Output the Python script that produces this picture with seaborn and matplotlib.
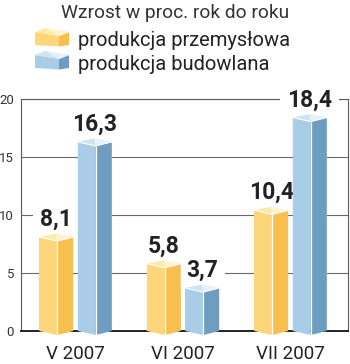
import matplotlib
matplotlib.use("Agg")
import matplotlib.pyplot as plt
from matplotlib.patches import Polygon
import seaborn as sns
import pandas as pd

# Year-on-year growth, per cent
miesiace = ["V 2007", "VI 2007", "VII 2007"]
serie = ["produkcja przemysłowa", "produkcja budowlana"]
przemyslowa = [8.1, 5.8, 10.4]
budowlana = [16.3, 3.7, 18.4]
etykiety_y = [0, 5, 10, 15, 20]

df = pd.DataFrame({
    "miesiac": miesiace * 2,
    "seria": [serie[0]] * 3 + [serie[1]] * 3,
    "wartosc": przemyslowa + budowlana,
})

# front / side / cap-left / cap-right tones for each series
KOLORY = {
    serie[0]: ("#fdd67c", "#f8bf4e", "#fee9a6", "#fff4cf"),
    serie[1]: ("#a9cde6", "#6f9dc0", "#cfe3f1", "#e6f1f9"),
}

sns.set_theme(style="white")
plt.rcParams["font.family"] = ["Roboto", "DejaVu Sans"]

W, H = 350, 364
fig = plt.figure(figsize=(W / 100, H / 100), dpi=100)
ax = fig.add_axes([21 / W, 33 / H, 327 / W, 232 / H])

sns.barplot(data=df, x="miesiac", y="wartosc", hue="seria", order=miesiace,
            hue_order=serie, palette={s: KOLORY[s][0] for s in serie},
            width=0.716, gap=0.12, linewidth=0, legend=False, ax=ax)

ax.set_xlim(-0.507, 2.535)
ax.set_ylim(0, 20)

DY_NEAR = 0.35
DY_FAR = 0.30
FRONT = 0.53


def box(ax, x0, w, h, cols, z=3):
    x1 = x0 + w
    xm = x0 + FRONT * w
    xf = x0 + (x1 - xm)
    front, side, capl, capr = cols
    kw = dict(closed=True, clip_on=False, zorder=z, linewidth=0)
    ax.add_patch(Polygon([(x0, 0), (xm, -DY_NEAR), (xm, h - DY_NEAR), (x0, h)],
                         facecolor=front, **kw))
    ax.add_patch(Polygon([(xm, -DY_NEAR), (x1, 0), (x1, h), (xm, h - DY_NEAR)],
                         facecolor=side, **kw))
    ax.add_patch(Polygon([(x0, h), (xf, h + DY_FAR), (x1, h), (xm, h - DY_NEAR)],
                         facecolor=capl, **kw))
    ax.add_patch(Polygon([(xf, h + DY_FAR), (x1, h), (xm, h - DY_NEAR)],
                         facecolor=capr, **kw))
    ax.plot([xm, xm], [-DY_NEAR, h - DY_NEAR], color="white", lw=0.9,
            zorder=z + 0.1, clip_on=False, solid_capstyle="butt")
    ax.plot([x0, xm, x1], [h, h - DY_NEAR, h], color="white", lw=0.8,
            zorder=z + 0.1, clip_on=False)


for seria, cont in zip(serie, ax.containers):
    for rect in cont:
        x0, w, h = rect.get_x(), rect.get_width(), rect.get_height()
        box(ax, x0, w, h, KOLORY[seria])
        ax.annotate(f"{h:.1f}".replace(".", ","), xy=(x0 + w / 2, h),
                    xytext=(0, 8), textcoords="offset points",
                    ha="center", va="baseline", fontsize=16.5, fontweight="bold",
                    color="#222222", zorder=2.8,
                    bbox=dict(boxstyle="square,pad=0.3", fc="white", ec="none"))

# axes frame and grid
ax.set_yticks(etykiety_y)
ax.set_yticklabels([str(v) for v in etykiety_y])
ax.yaxis.grid(True, color="#6a6a6a", lw=0.8)
ax.set_axisbelow(True)
for s in ["left", "top", "right"]:
    ax.spines[s].set_color("#5a5a5a")
    ax.spines[s].set_linewidth(0.8)
ax.spines["bottom"].set_color("#111111")
ax.spines["bottom"].set_linewidth(1.3)
ax.tick_params(axis="y", length=0, pad=5, labelsize=9.5, labelcolor="#333333")
ax.tick_params(axis="x", which="major", length=0, pad=10, labelsize=13.5,
               labelcolor="#222222")
ax.set_xticks([0.5, 1.5], minor=True)
ax.tick_params(axis="x", which="minor", direction="in", length=4, width=1,
               color="#111111")
ax.set_xlabel("")
ax.set_ylabel("")

# title and legend
def px(x, y):
    return (x / W, 1 - y / H)


fig.text(*px(175, 18), "Wzrost w proc. rok do roku", ha="center",
         va="baseline", fontsize=13.8, color="#333333")

for i, seria in enumerate(serie):
    oy = i * 23
    front, side, capl, capr = KOLORY[seria]
    x0, x1, xm = 35, 69, 59
    xf = x0 + (x1 - xm)
    top, near, far, bot = 32 + oy, 36 + oy, 28 + oy, 45 + oy
    kw = dict(closed=True, transform=fig.transFigure, linewidth=0)
    fig.patches.append(Polygon([px(x0, top), px(xm, near), px(xm, bot + 1.5), px(x0, bot)],
                               facecolor=front, **kw))
    fig.patches.append(Polygon([px(xm, near), px(x1, top), px(x1, bot), px(xm, bot + 1.5)],
                               facecolor=side, **kw))
    fig.patches.append(Polygon([px(x0, top), px(xf, far), px(x1, top), px(xm, near)],
                               facecolor=capl, **kw))
    fig.patches.append(Polygon([px(xf, far), px(x1, top), px(xm, near)],
                               facecolor=capr, **kw))
    fig.text(*px(78, 46.5 + oy), seria, ha="left", va="baseline",
             fontsize=14.5, color="#222222")

fig.savefig("out.png", dpi=100)
